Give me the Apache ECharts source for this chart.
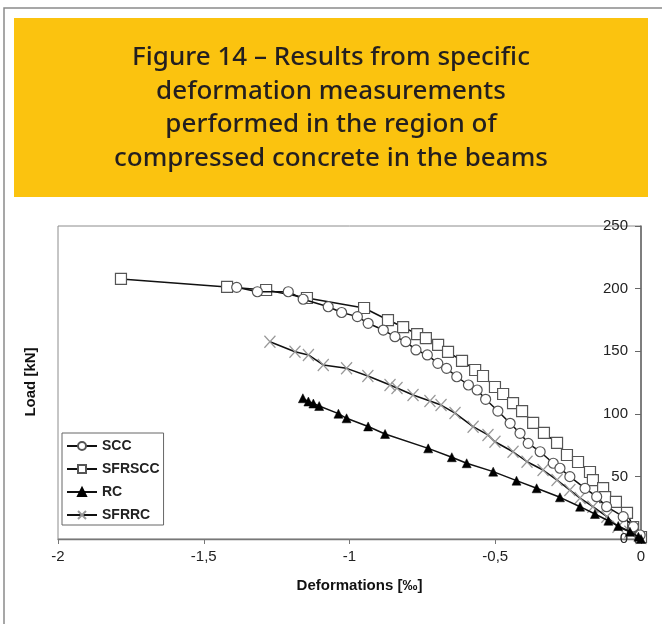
<!DOCTYPE html>
<html>
<head>
<meta charset="utf-8">
<script src="https://cdn.jsdelivr.net/npm/echarts@6/dist/echarts.min.js"></script>
<style>
html,body{margin:0;padding:0;background:#fff;}
#c{width:662px;height:624px;}
</style>
</head>
<body>
<div id="c"></div>
<script>
// ---- data ----
const titleLines = [
  "Figure 14 – Results from specific",
  "deformation measurements",
  "performed in the region of",
  "compressed concrete in the beams"
];
const seriesNames = ["SCC", "SFRSCC", "RC", "SFRRC"];
const xTicks = [-2, -1.5, -1, -0.5, 0];
const yTicks = [0, 50, 100, 150, 200, 250];

const sccX = [-1.387,-1.316,-1.210,-1.159,-1.073,-1.027,-0.973,-0.936,-0.884,-0.844,-0.807,-0.772,-0.733,-0.697,-0.667,-0.632,-0.592,-0.562,-0.533,-0.491,-0.449,-0.415,-0.387,-0.346,-0.301,-0.278,-0.244,-0.192,-0.152,-0.118,-0.061,-0.026,-0.003];
const sccY = [201.0,197.5,197.5,191.5,185.5,180.9,177.6,172.3,166.9,161.6,157.6,151.0,147.0,140.3,136.3,129.6,123.0,119.0,111.6,102.2,92.4,84.4,76.4,69.7,60.5,56.5,49.8,40.5,33.8,25.8,17.8,9.8,3.2];

const sfrsccX = [-1.784,-1.420,-1.286,-1.146,-0.950,-0.868,-0.816,-0.768,-0.738,-0.696,-0.662,-0.614,-0.569,-0.542,-0.501,-0.473,-0.439,-0.408,-0.370,-0.333,-0.288,-0.254,-0.216,-0.175,-0.165,-0.130,-0.123,-0.086,-0.048,-0.027,0.0];
const sfrsccY = [207.7,201.3,198.9,192.5,184.5,174.9,169.3,163.7,160.5,155.0,149.4,142.2,135.0,130.2,121.4,115.8,108.6,102.2,92.7,84.7,76.7,67.1,61.5,53.5,47.1,40.7,33.5,29.6,20.8,9.6,1.6];

const rcX = [-1.160,-1.141,-1.124,-1.104,-1.038,-1.010,-0.936,-0.878,-0.730,-0.649,-0.598,-0.507,-0.427,-0.358,-0.278,-0.209,-0.158,-0.112,-0.078,-0.038,-0.009,0.0];
const rcY = [112.4,109.8,108.2,106.2,100.1,96.4,89.9,83.9,72.4,65.3,60.5,53.8,46.6,40.5,33.3,25.8,20.0,14.6,10.4,5.8,1.8,0.0];

const sfrrcX = [-1.273,-1.187,-1.141,-1.090,-1.010,-0.937,-0.861,-0.837,-0.782,-0.724,-0.686,-0.638,-0.576,-0.525,-0.501,-0.439,-0.391,-0.336,-0.288,-0.244,-0.209,-0.165,-0.117,-0.079,-0.038,0.0];
const sfrrcY = [157.6,149.6,147.0,139.0,136.3,130.2,123.0,120.6,115.0,110.2,107.0,100.6,89.7,83.1,77.7,69.7,61.7,55.1,47.1,39.1,32.7,25.8,17.8,9.8,5.8,0.8];

const xAxisName = "Deformations [‰]";
const yAxisName = "Load [kN]";

// ---- build ----
const zip = (xs, ys) => xs.map((x, i) => [x, ys[i]]);
const FONT = "'Liberation Sans', Arial, sans-serif";
const lineStyle = { color: '#111', width: 1.5 };

const chart = echarts.init(document.getElementById('c'), null, { renderer: 'canvas' });

const titleGraphics = titleLines.map((t, i) => ({
  type: 'text',
  left: 'center',
  top: 45 + i * 33.5,
  style: {
    text: t,
    font: "500 26px 'Noto Sans', sans-serif",
    fill: '#231f20'
  },
  z: 10
}));

chart.setOption({
  backgroundColor: '#fff',
  animation: false,
  graphic: [
    { type: 'rect', shape: { x: 4, y: 8, width: 720, height: 700 }, style: { fill: '#fff', stroke: '#8a8a8a', lineWidth: 1.5 }, z: -10 },
    { type: 'rect', shape: { x: 14, y: 18, width: 634, height: 179 }, style: { fill: '#fbc30f' }, z: 1 },
    ...titleGraphics,
    { type: 'text', x: 31, y: 382, rotation: Math.PI / 2, originX: 0, originY: 0,
      style: { text: yAxisName, font: "bold 15px " + FONT, fill: '#111', align: 'center', verticalAlign: 'middle' }, z: 10 }
  ],
  grid: { left: 58, right: 21, top: 226, bottom: 85, show: true, borderColor: '#8c8c8c', borderWidth: 1, backgroundColor: 'transparent' },
  legend: {
    orient: 'vertical', left: 62, top: 433,
    data: seriesNames,
    itemGap: 7, itemWidth: 30, itemHeight: 10,
    padding: [5, 4, 2, 4],
    borderColor: '#666', borderWidth: 1, backgroundColor: '#fff',
    textStyle: { fontFamily: FONT, fontSize: 14, fontWeight: 'bold', color: '#222', lineHeight: 16 }
  },
  xAxis: {
    type: 'value', min: -2, max: 0, interval: 0.5,
    name: xAxisName, nameLocation: 'middle', nameGap: 39,
    nameTextStyle: { fontFamily: FONT, fontSize: 15, fontWeight: 'bold', color: '#111', padding: [0, 0, 0, 20] },
    axisLine: { lineStyle: { color: '#777', width: 1.3 } },
    axisTick: { show: true, length: 5, lineStyle: { color: '#777' } },
    axisLabel: { margin: 10, fontFamily: FONT, fontSize: 15, color: '#222',
      formatter: v => xTicks.includes(v) ? String(v).replace('.', ',') : '' },
    splitLine: { show: false }
  },
  yAxis: {
    type: 'value', min: 0, max: 250, interval: 50, position: 'right',
    axisLine: { show: true, lineStyle: { color: '#666', width: 1.5 } },
    axisTick: { show: true, inside: true, length: 6, lineStyle: { color: '#666' } },
    axisLabel: { inside: true, margin: 13, fontFamily: FONT, fontSize: 15, color: '#222',
      formatter: v => yTicks.includes(v) ? String(v) : '' },
    splitLine: { show: false }
  },
  series: [
    { name: seriesNames[0], type: 'line', data: zip(sccX, sccY), symbol: 'circle', symbolSize: 10,
      lineStyle, itemStyle: { color: '#fff', borderColor: '#555', borderWidth: 1.2 }, z: 3 },
    { name: seriesNames[1], type: 'line', data: zip(sfrsccX, sfrsccY), symbol: 'rect', symbolSize: 11,
      lineStyle, itemStyle: { color: '#fff', borderColor: '#555', borderWidth: 1.2 }, z: 2 },
    { name: seriesNames[2], type: 'line', data: zip(rcX, rcY), symbol: 'triangle', symbolSize: 9,
      lineStyle, itemStyle: { color: '#000', borderColor: '#000', borderWidth: 0.5 }, z: 4 },
    { name: seriesNames[3], type: 'line', data: zip(sfrrcX, sfrrcY), symbol: 'path://M0,0L10,12M10,0L0,12', symbolSize: [11, 12],
      symbolKeepAspect: false,
      lineStyle, itemStyle: { color: 'none', borderColor: '#999', borderWidth: 1.3 }, z: 1 }
  ]
});
</script>
</body>
</html>
